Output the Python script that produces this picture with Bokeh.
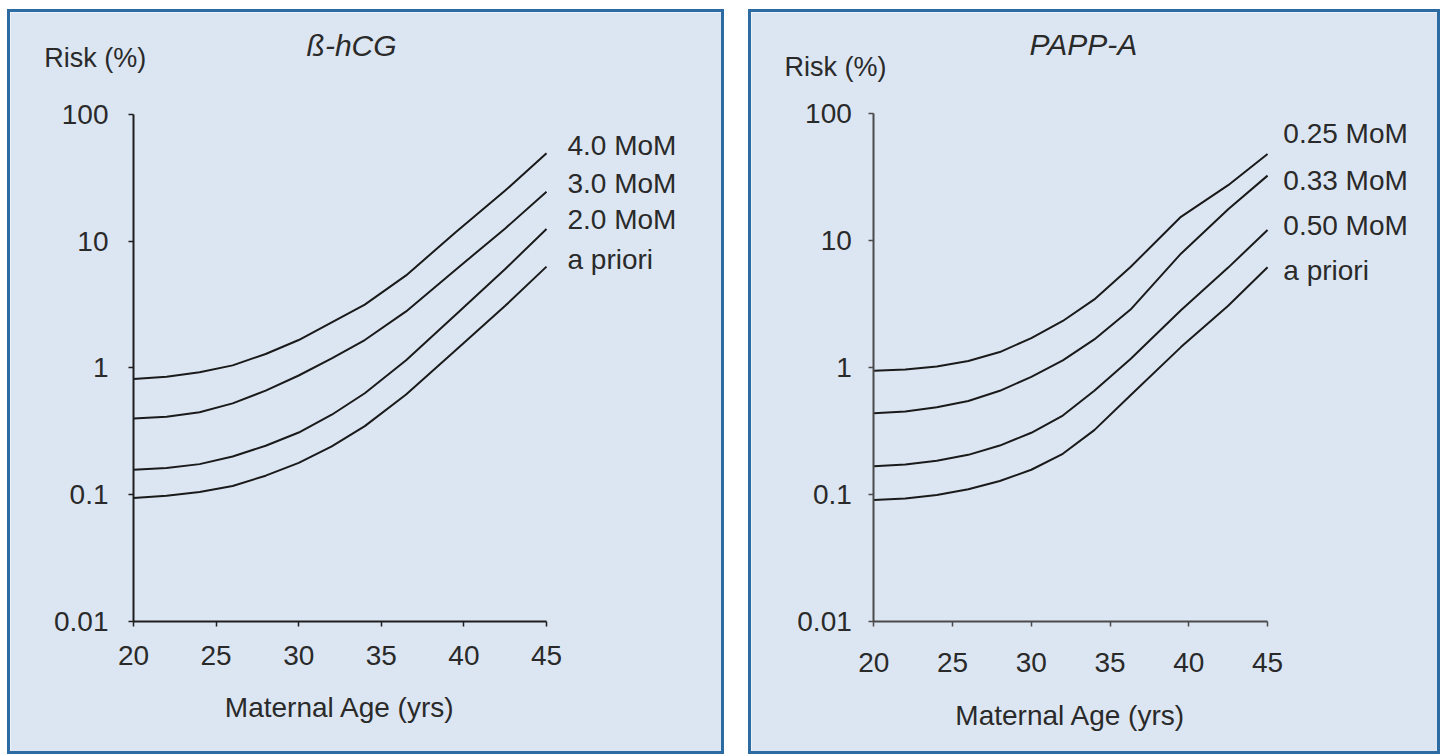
from bokeh.plotting import figure
from bokeh.models import (Range1d, FixedTicker, Label, ColumnDataSource,
                          LinearAxis, LogAxis, Spacer)
from bokeh.layouts import row, column
from bokeh.embed import file_html
from bokeh.resources import INLINE

# ---------------- data ----------------
X_TICKS = [20, 25, 30, 35, 40, 45]
Y_TICKS = [0.01, 0.1, 1, 10, 100]
Y_LABELS = ["0.01", "0.1", "1", "10", "100"]

# Left panel: beta-hCG  (risk in %, by maternal age)
AGE_L = [20, 22, 24, 26, 28, 30, 32, 34, 36.5, 39.5, 42.5, 45]
HCG_4_0 = [0.818, 0.851, 0.923, 1.047, 1.288, 1.66, 2.29, 3.16, 5.37, 11.75, 25.1, 49.4]
HCG_3_0 = [0.398, 0.412, 0.447, 0.525, 0.661, 0.871, 1.19, 1.66, 2.79, 5.96, 12.6, 24.6]
HCG_2_0 = [0.157, 0.162, 0.174, 0.200, 0.243, 0.309, 0.427, 0.631, 1.148, 2.63, 6.03, 12.5]
HCG_APRIORI = [0.094, 0.098, 0.105, 0.117, 0.141, 0.178, 0.240, 0.347, 0.617, 1.38, 3.09, 6.3]
HCG_NAMES = ["4.0 MoM", "3.0 MoM", "2.0 MoM", "a priori"]

# Right panel: PAPP-A
AGE_R = [20, 22, 24, 26, 28, 30, 32, 34, 36.3, 39.5, 42.5, 45]
PAPP_0_25 = [0.951, 0.973, 1.028, 1.135, 1.334, 1.718, 2.344, 3.467, 6.24, 15.5, 27.5, 48.4]
PAPP_0_33 = [0.441, 0.455, 0.490, 0.550, 0.661, 0.851, 1.148, 1.679, 2.884, 7.94, 17.8, 32.7]
PAPP_0_50 = [0.168, 0.174, 0.186, 0.207, 0.245, 0.309, 0.422, 0.661, 1.175, 2.85, 6.17, 12.2]
PAPP_APRIORI = [0.0912, 0.0938, 0.100, 0.111, 0.129, 0.158, 0.211, 0.324, 0.61, 1.46, 3.09, 6.22]
PAPP_NAMES = ["0.25 MoM", "0.33 MoM", "0.50 MoM", "a priori"]

# ---------------- styling ----------------
BG = "#dce6f2"
BORDER = "#2c6ca3"
FONT = "Liberation Sans"
TXT = "#2a2a2a"
LINE = "#1a1a1a"
HEIGHT = 745


def make_panel(width, x_view, y_view, ages, series, names, name_pos,
               title, title_pos, risk_pos, axis_color,
               x_standoff, x_label_standoff, y_standoff):
    p = figure(width=width, height=HEIGHT,
               x_range=Range1d(*x_view), y_range=Range1d(*y_view),
               y_axis_type="log", x_axis_location=None, y_axis_location=None,
               output_backend="svg", toolbar_location=None, min_border=0)
    p.background_fill_color = BG
    p.border_fill_color = BG
    p.outline_line_color = None
    p.xgrid.grid_line_color = None
    p.ygrid.grid_line_color = None
    p.styles = {"border": f"3px solid {BORDER}"}

    xa = LinearAxis(fixed_location=Y_TICKS[0], bounds=(X_TICKS[0], X_TICKS[-1]),
                    ticker=FixedTicker(ticks=X_TICKS))
    ya = LogAxis(fixed_location=X_TICKS[0], bounds=(Y_TICKS[0], Y_TICKS[-1]),
                 ticker=FixedTicker(ticks=Y_TICKS))
    for ax in (xa, ya):
        ax.axis_line_color = axis_color
        ax.axis_line_width = 2
        ax.major_tick_line_color = axis_color
        ax.major_tick_line_width = 1.5
        ax.major_tick_in = 0
        ax.major_tick_out = 5
        ax.minor_tick_line_color = None
        ax.major_label_text_font = FONT
        ax.major_label_text_font_size = "28px"
        ax.major_label_text_color = TXT

    xa.major_label_standoff = x_standoff
    xa.axis_label = "Maternal Age (yrs)"
    xa.axis_label_text_font = FONT
    xa.axis_label_text_font_style = "normal"
    xa.axis_label_text_font_size = "28px"
    xa.axis_label_text_color = TXT
    xa.axis_label_standoff = x_label_standoff

    ya.major_label_overrides = {t: s for t, s in zip(Y_TICKS, Y_LABELS)}
    ya.major_label_standoff = y_standoff

    p.add_layout(xa, "below")
    p.add_layout(ya, "left")

    for vals in series:
        src = ColumnDataSource(dict(age=ages, risk=vals))
        p.line("age", "risk", source=src, line_color=LINE, line_width=2)

    for name, (lx, ly) in zip(names, name_pos):
        p.add_layout(Label(x=lx, y=ly, text=name, text_font=FONT,
                           text_font_size="28px", text_color=TXT,
                           text_align="left", text_baseline="middle"))

    p.add_layout(Label(x=title_pos[0], y=title_pos[1], text=title,
                       text_font=FONT, text_font_style="italic",
                       text_font_size="30px", text_color=TXT,
                       text_align="center", text_baseline="middle"))
    p.add_layout(Label(x=risk_pos[0], y=risk_pos[1], text="Risk (%)",
                       text_font=FONT, text_font_size="27px", text_color=TXT,
                       text_align="left", text_baseline="middle"))
    return p


left = make_panel(
    717, (12.5545, 55.955), (10 ** -3.075, 10 ** 2.805),
    AGE_L, [HCG_4_0, HCG_3_0, HCG_2_0, HCG_APRIORI], HCG_NAMES,
    [(46.27, 56.8), (46.27, 28.5), (46.27, 14.8), (46.27, 7.16)],
    "ß-hCG", (33.2, 350), (14.6, 281), "#1e1e1e", 20, 23, 20)

right = make_panel(
    692, (12.235, 56.17), (10 ** -3.067, 10 ** 2.799),
    AGE_R, [PAPP_0_25, PAPP_0_33, PAPP_0_50, PAPP_APRIORI], PAPP_NAMES,
    [(46.0, 70.7), (46.0, 30.1), (46.0, 13.3), (46.0, 5.86)],
    "PAPP-A", (33.3, 350), (14.33, 234), "#4a4a4a", 26, 25, 17)

layout = column(Spacer(height=9),
                row(Spacer(width=7), left, Spacer(width=24), right))
open("out.html", "w").write(file_html(layout, INLINE))
